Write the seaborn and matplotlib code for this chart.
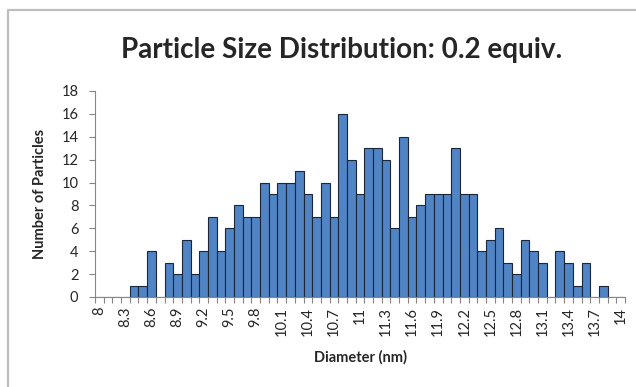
import matplotlib
matplotlib.use("Agg")
import matplotlib.pyplot as plt
from matplotlib.lines import Line2D
from matplotlib.ticker import FixedLocator
import seaborn as sns
import pandas as pd

# bin upper edges (nm) and counts
diameters = [round(8.0 + 0.1 * i, 1) for i in range(61)]
counts = [0, 0, 0, 0, 1, 1, 4, 0, 3, 2,
          5, 2, 4, 7, 4, 6, 8, 7, 7, 10,
          9, 10, 10, 11, 9, 7, 10, 7, 16, 12,
          9, 13, 13, 12, 6, 14, 7, 8, 9, 9,
          9, 13, 9, 9, 4, 5, 6, 3, 2, 5,
          4, 3, 0, 4, 3, 1, 3, 0, 1, 0,
          0]
bin_labels = [f"{d:g}" for d in diameters]

df = pd.DataFrame({"bin": bin_labels, "count": counts})

sns.set_style("white")
plt.rcParams["font.family"] = ["Lato", "DejaVu Sans"]

fig = plt.figure(figsize=(6.36, 3.87), dpi=100)
ax = fig.add_axes([95 / 636, 1 - 297 / 387, 530 / 636, 206 / 387])

sns.barplot(data=df, x="bin", y="count", order=bin_labels, width=1.0,
            color="#5084c4", saturation=1, edgecolor="#1b2738",
            linewidth=0.8, ax=ax)

ax.set_xlim(-0.5, len(bin_labels) - 0.5)
ax.set_ylim(0, 18)
ax.set_yticks(range(0, 19, 2))

# labels on every third bin, tick marks between every bin
label_pos = list(range(0, len(bin_labels), 3))
ax.xaxis.set_major_locator(FixedLocator(label_pos))
ax.set_xticklabels([bin_labels[i] for i in label_pos], rotation=90, fontsize=10.5)
ax.xaxis.set_minor_locator(FixedLocator([i - 0.5 for i in range(len(bin_labels) + 1)]))
ax.tick_params(axis="x", which="major", length=0, pad=7)
ax.tick_params(axis="x", which="minor", length=4, width=0.8, color="#868686",
               direction="out", bottom=True)
ax.tick_params(axis="y", length=4, width=0.8, color="#868686", direction="out",
               left=True, labelsize=10.5, pad=8)

for side in ["top", "right"]:
    ax.spines[side].set_visible(False)
for side in ["left", "bottom"]:
    ax.spines[side].set_color("#868686")
    ax.spines[side].set_linewidth(0.8)

ax.set_xlabel("Diameter (nm)", fontsize=10.5, fontweight="bold", labelpad=10)
ax.set_ylabel("Number of Particles", fontsize=10.5, fontweight="bold", labelpad=10)
fig.text(342 / 636, 1 - 50 / 387, "Particle Size Distribution: 0.2 equiv.",
         ha="center", va="center", fontsize=20, fontweight="bold")

# chart area border (left and top edges visible in the crop)
bx, by = 8 / 636, 1 - 10 / 387
fig.add_artist(Line2D([bx, bx, 1.0], [0.0, by, by], transform=fig.transFigure,
                      color="#bdbdbd", linewidth=1.6))

fig.savefig("out.png", dpi=100)
